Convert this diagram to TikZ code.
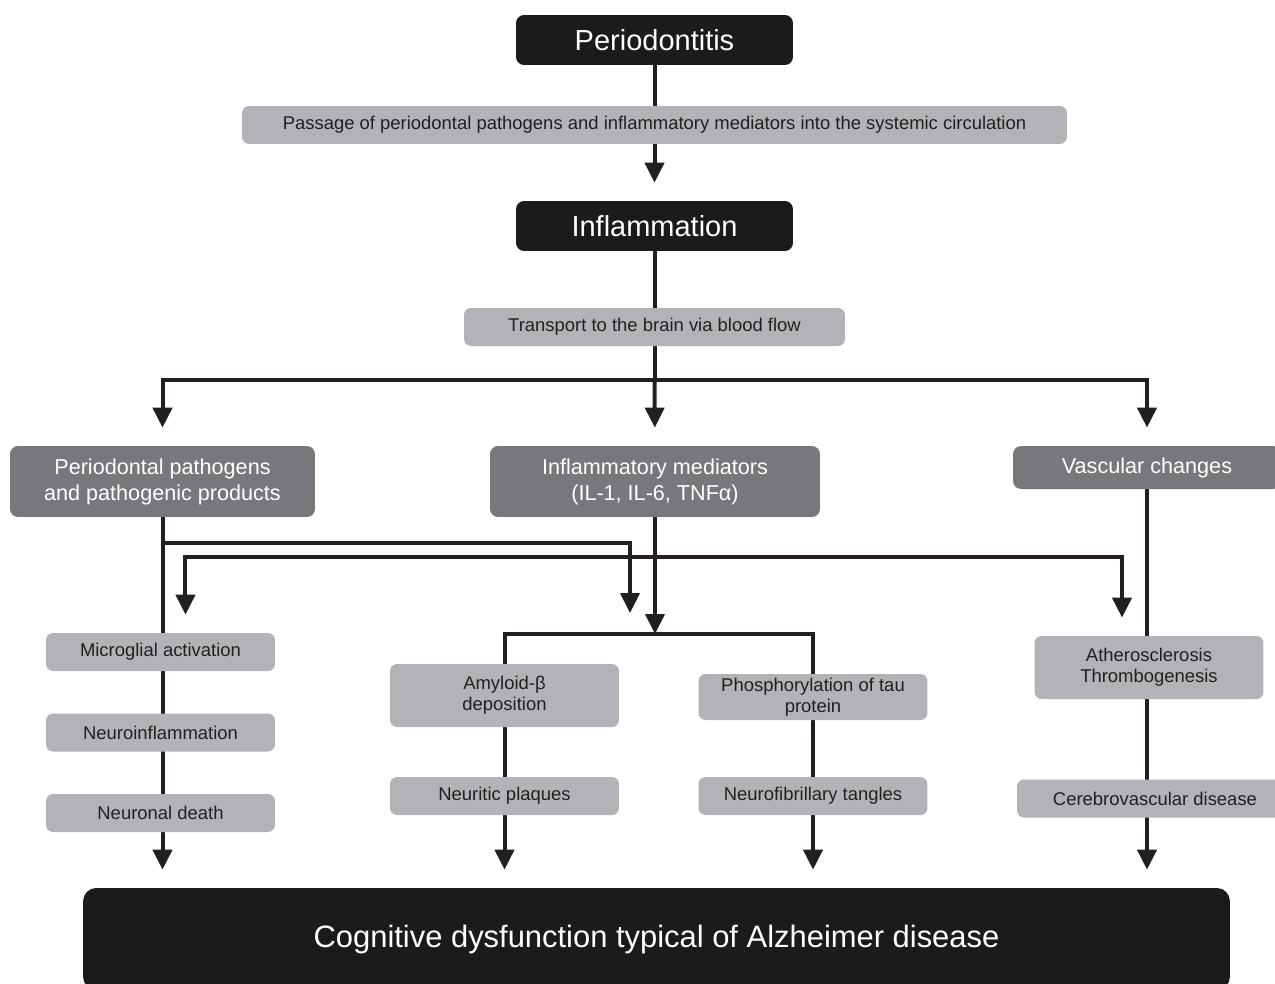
\documentclass[tikz,border=0pt]{standalone}
\usepackage{fontspec}
\setmainfont{Liberation Sans}
\usetikzlibrary{arrows.meta,backgrounds}

\definecolor{boxblack}{RGB}{28,26,27}
\definecolor{boxdark}{RGB}{119,120,123}
\definecolor{boxlight}{RGB}{178,179,182}
\definecolor{inkcol}{RGB}{35,31,32}

\begin{document}
\begin{tikzpicture}[x=0.02cm, y=-0.02cm,
  blackbox/.style={fill=boxblack, text=white, rounded corners=0.16cm, inner sep=0pt,
    align=center, minimum width=5.54cm, minimum height=1cm, font=\fontsize{16.5}{19}\selectfont},
  darkbox/.style={fill=boxdark, text=white, rounded corners=0.16cm, inner sep=0pt,
    align=center, minimum height=1.42cm, font=\fontsize{12.3}{14.7}\selectfont},
  lightbox/.style={fill=boxlight, text=inkcol, rounded corners=0.14cm, inner sep=0pt,
    align=center, minimum width=4.58cm, minimum height=0.76cm, font=\fontsize{10.5}{12}\selectfont},
  conn/.style={line width=0.08cm, draw=inkcol},
  arr/.style={conn, -{Triangle[width=0.38cm,length=0.4cm]}, shorten >=0.36cm}]

  \useasboundingbox (0,0) rectangle (1275,984);

  \node[blackbox] (per) at (654.5,40) {Periodontitis};
  \node[lightbox, minimum width=16.5cm] (pas) at (654.5,125)
    {Passage of periodontal pathogens and inflammatory mediators into the systemic circulation};
  \node[blackbox] (inf) at (654.5,226) {Inflammation};
  \node[lightbox, minimum width=7.62cm] (tra) at (654.5,327) {Transport to the brain via blood flow};

  \node[darkbox, minimum width=6.1cm] (pat) at (162.5,481.5) {Periodontal pathogens\\and pathogenic products};
  \node[darkbox, minimum width=6.6cm] (med) at (655,481.5) {Inflammatory mediators\\(IL-1, IL-6, TNFα)};
  \node[darkbox, minimum width=5.36cm, minimum height=0.86cm] (vas) at (1147,467.5) {Vascular changes};

  \node[lightbox] (mic) at (160.5,652) {Microglial activation};
  \node[lightbox] (nin) at (160.5,732.5) {Neuroinflammation};
  \node[lightbox] (ndt) at (160.5,813) {Neuronal death};

  \node[lightbox, minimum height=1.26cm] (abe) at (504.5,695.5) {Amyloid-β\\deposition};
  \node[lightbox] (npl) at (504.5,796) {Neuritic plaques};
  \node[lightbox, minimum height=0.92cm] (pho) at (813,697) {Phosphorylation of tau\\protein};
  \node[lightbox] (nft) at (813,796) {Neurofibrillary tangles};

  \node[lightbox, minimum height=1.26cm] (ath) at (1149,667.5) {Atherosclerosis\\Thrombogenesis};
  \node[lightbox, minimum width=5.52cm] (cer) at (1155,798.5) {Cerebrovascular disease};

  \node[fill=boxblack, text=white, rounded corners=0.26cm, minimum width=22.94cm, minimum height=2.04cm,
    font=\fontsize{17.6}{20}\selectfont] (cog) at (656.5,939) {Cognitive dysfunction typical of Alzheimer disease};

  \coordinate (split) at (654.5,380);
  \coordinate (patsplit) at (162.5,543);
  \coordinate (medsplit) at (655,557);
  \coordinate (hub) at (655,634);
  \coordinate (hubL) at (630,634);

  \begin{scope}[on background layer]
    \draw[arr] (per.south) -- (inf.north);
    \draw[conn] (inf.south) -- (split);
    \draw[arr] (split) -| (pat.north);
    \draw[arr] (split) -- (med.north);
    \draw[arr] (split) -| (vas.north);

    \draw[arr] (pat.south) -- (pat.south |- cog.north);
    \draw[arr, shorten >=0.42cm] (patsplit) -| (hubL);
    \draw[arr, shorten >=0pt] (med.south) -- (hub);
    \draw[arr] (medsplit) -| ([xshift=0.5cm]mic.north);
    \draw[arr] (medsplit) -| ([xshift=-0.54cm]ath.north);

    \draw[conn] (abe.north) |- (hub) -| (pho.north);
    \draw[arr] (abe.south) -- (abe.south |- cog.north);
    \draw[arr] (pho.south) -- (pho.south |- cog.north);
    \draw[arr] (vas.south) -- (vas.south |- cog.north);
  \end{scope}
\end{tikzpicture}
\end{document}
